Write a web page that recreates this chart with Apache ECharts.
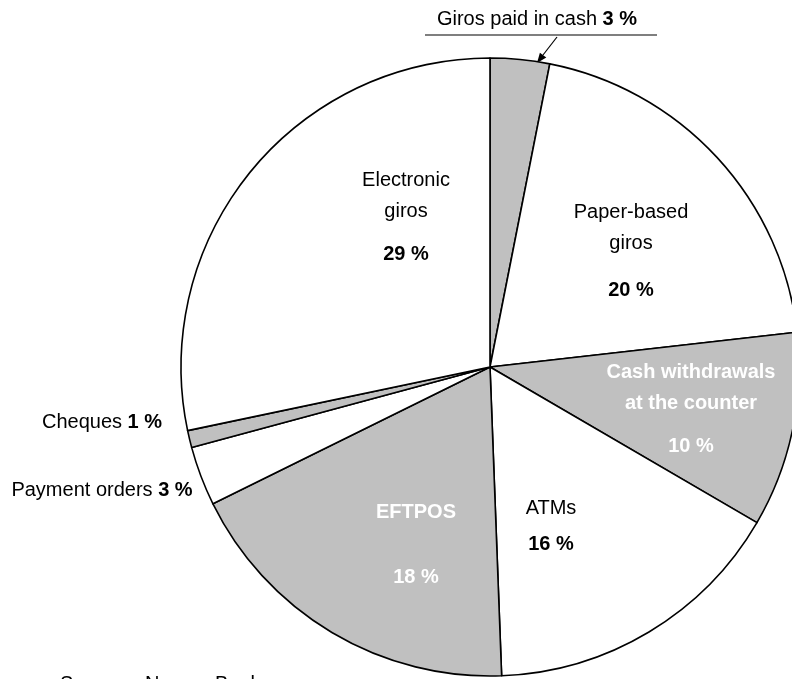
<!DOCTYPE html>
<html>
<head>
<meta charset="utf-8">
<script src="https://cdn.jsdelivr.net/npm/echarts@6/dist/echarts.min.js"></script>
<style>
  html, body { margin: 0; padding: 0; background: #fff; }
  #chart { width: 792px; height: 679px; }
</style>
</head>
<body>
<div id="chart"></div>
<script>
// Slice names, clockwise from 12 o'clock
const names = ['Giros paid in cash', 'Paper-based giros', 'Cash withdrawals at the counter', 'ATMs',
    'EFTPOS', 'Payment orders', 'Cheques', 'Electronic giros'];
// Shares (angles), in per cent
const shares = [3.1, 20.1, 10.2, 16.0, 18.3, 3.1, 0.9, 28.3];
// Percentages as printed in the labels
const printed = ['3', '20', '10', '16', '18', '3', '1', '29'];
// Label text lines (before the percentage)
const labelLines = [
    ['Giros paid in cash'],
    ['Paper-based', 'giros'],
    ['Cash withdrawals', 'at the counter'],
    ['ATMs'],
    ['EFTPOS'],
    ['Payment orders'],
    ['Cheques'],
    ['Electronic', 'giros']
];
const shaded = [true, false, true, false, true, false, true, false];

// where each label goes (first line centre) and gap to the percentage line
const labelPos = [
    { x: 537, y: 19, gap: 0, inline: true },
    { x: 631, y: 212, gap: 47 },
    { x: 691, y: 372, gap: 43 },
    { x: 551, y: 508, gap: 36 },
    { x: 416, y: 512, gap: 65 },
    { x: 102, y: 490, gap: 0, inline: true },
    { x: 102, y: 422, gap: 0, inline: true },
    { x: 406, y: 180, gap: 43 }
];

const FONT = '"Liberation Sans", Arial, sans-serif';
const LINE = 31;

const chart = echarts.init(document.getElementById('chart'));

// rich styles, one percentage style per label so gaps can differ
const rich = {};
labelPos.forEach((p, i) => {
    const white = shaded[i] && !p.inline;
    const col = white ? '#fff' : '#000';
    rich['n' + i] = { fontFamily: FONT, fontSize: 20, color: col, lineHeight: LINE, fontWeight: white ? 'bold' : 'normal' };
    rich['p' + i] = {
        fontFamily: FONT, fontSize: 20, color: col, fontWeight: 'bold',
        lineHeight: p.inline ? LINE : Math.max(LINE, 2 * (p.gap - LINE / 2))
    };
});

const data = names.map((n, i) => ({
    name: n,
    value: shares[i],
    itemStyle: { color: shaded[i] ? '#c0c0c0' : '#ffffff' }
}));

const options = {
    backgroundColor: '#fff',
    animation: false,
    series: [
        {
            type: 'pie',
            center: [490, 367],
            radius: 309,
            startAngle: 90,
            clockwise: true,
            avoidLabelOverlap: false,
            data: data,
            itemStyle: { borderColor: '#000', borderWidth: 1.6 },
            emphasis: { disabled: true },
            labelLine: { show: false },
            label: {
                show: true,
                position: 'inside',
                align: 'center',
                formatter: function (params) {
                    const i = params.dataIndex;
                    const p = labelPos[i];
                    if (p.inline) {
                        return '{n' + i + '|' + labelLines[i][0] + ' }{p' + i + '|' + printed[i] + ' %}';
                    }
                    const txt = labelLines[i].map(l => '{n' + i + '|' + l + '}').join('\n');
                    return txt + '\n{p' + i + '|' + printed[i] + ' %}';
                },
                rich: rich
            },
            labelLayout: function (params) {
                const p = labelPos[params.dataIndex];
                return {
                    x: p.x,
                    y: p.y - LINE / 2,
                    align: 'center',
                    verticalAlign: 'top'
                };
            }
        }
    ],
    graphic: [
        // underline and arrow of the top label
        { type: 'line', shape: { x1: 425, y1: 35, x2: 657, y2: 35 }, style: { stroke: '#000', lineWidth: 1.2 } },
        { type: 'line', shape: { x1: 557, y1: 37, x2: 543, y2: 55 }, style: { stroke: '#000', lineWidth: 1.2 } },
        { type: 'polygon', shape: { points: [[537, 63], [546.3, 57.5], [539.9, 52.7]] }, style: { fill: '#000' } },
        // source line, cut off at the bottom edge
        { type: 'text', left: 60, top: 674, style: { text: 'Source:', font: '20px ' + FONT, fill: '#000' } },
        { type: 'text', left: 145, top: 674, style: { text: 'Norges Bank', font: '20px ' + FONT, fill: '#000' } }
    ]
};

chart.setOption(options);
</script>
</body>
</html>
